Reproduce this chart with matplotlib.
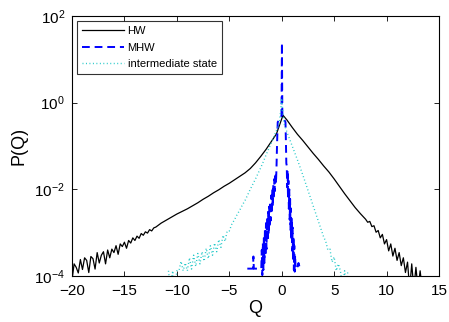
import numpy as np
import matplotlib
matplotlib.use("Agg")
import matplotlib.pyplot as plt

plt.rcParams['font.family'] = ['Liberation Sans', 'DejaVu Sans']

# ---- HW distribution (log10 P) ----
hw_q = [-20.0, -19.8, -19.6, -19.4, -19.2, -19.0, -18.8, -18.6, -18.4, -18.2,
        -18.0, -17.8, -17.6, -17.4, -17.2, -17.0, -16.8, -16.6, -16.4, -16.2,
        -16.0, -15.8, -15.6, -15.4, -15.2, -15.0, -14.8, -14.6, -14.4, -14.2,
        -14.0, -13.8, -13.6, -13.4, -13.2, -13.0, -12.8, -12.6, -12.4, -12.2,
        -12.0, -11.5, -11.0, -10.5, -10.0, -9.5, -9.0, -8.5, -8.0, -7.5,
        -7.0, -6.5, -6.0, -5.5, -5.0, -4.5, -4.0, -3.5, -3.0, -2.5,
        -2.0, -1.5, -1.0, -0.5, 0.12, 0.5, 1.0, 1.5, 2.0, 2.5,
        3.0, 3.5, 4.0, 4.5, 5.0, 5.5, 6.0, 6.5, 7.0, 7.5,
        8.0, 8.2, 8.4, 8.6, 8.8, 9.0, 9.2, 9.4, 9.6, 9.8,
        10.0, 10.2, 10.4, 10.6, 10.8, 11.0, 11.2, 11.4, 11.6, 11.8,
        12.0, 12.2, 12.4, 12.6, 12.8, 13.0, 13.2, 13.4]
hw_logp = [-4.10, -3.72, -3.80, -3.93, -3.62, -3.85, -3.58, -3.64, -3.92, -3.55,
           -3.60, -3.84, -3.46, -3.70, -3.52, -3.44, -3.72, -3.40, -3.58, -3.38,
           -3.46, -3.30, -3.50, -3.26, -3.32, -3.22, -3.36, -3.18, -3.24, -3.12,
           -3.18, -3.08, -3.13, -3.02, -3.06, -2.98, -3.01, -2.93, -2.96, -2.89,
           -2.87, -2.78, -2.71, -2.64, -2.57, -2.51, -2.45, -2.38, -2.31, -2.23,
           -2.16, -2.08, -2.01, -1.93, -1.86, -1.78, -1.70, -1.62, -1.52, -1.39,
           -1.24, -1.08, -0.90, -0.72, -0.29, -0.40, -0.57, -0.73, -0.87, -1.02,
           -1.17, -1.31, -1.46, -1.60, -1.76, -1.93, -2.10, -2.26, -2.42, -2.56,
           -2.69, -2.76, -2.74, -2.86, -2.84, -2.99, -2.95, -3.12, -3.04, -3.26,
           -3.16, -3.42, -3.26, -3.54, -3.36, -3.64, -3.46, -3.76, -3.58, -3.92,
           -3.68, -4.30, -3.72, -4.30, -3.80, -4.30, -3.88, -4.30]

# ---- MHW distribution (log10 P) ----
mhw_q = [-3.28, -3.00, -2.74, -2.70, -2.66, -2.40, -2.10, -1.95,
         -1.90, -1.85, -1.80, -1.75, -1.70, -1.65, -1.60, -1.55, -1.50, -1.45,
         -1.40, -1.35, -1.30, -1.25, -1.20, -1.15, -1.10, -1.05, -1.00, -0.95,
         -0.90, -0.85, -0.80, -0.75, -0.70, -0.65, -0.60, -0.55, -0.50,
         -0.46, -0.42, -0.38, -0.02, 0.02, 0.06, 0.36, 0.40, 0.44,
         0.48, 0.52, 0.56, 0.60, 0.64, 0.68, 0.72, 0.76, 0.80, 0.84,
         0.88, 0.92, 0.96, 1.00, 1.04, 1.08, 1.12, 1.16, 1.20, 1.24, 1.28,
         1.32, 1.45, 1.60, 1.74]
mhw_logp = [-3.83, -3.83, -3.83, -3.55, -3.83, -3.83, -3.83, -3.83,
            -3.40, -3.98, -3.24, -3.86, -3.06, -3.70, -2.92, -3.54, -2.78, -3.38,
            -2.66, -3.20, -2.52, -3.04, -2.40, -2.88, -2.28, -2.72, -2.14, -2.56,
            -2.02, -2.40, -1.88, -2.22, -1.76, -2.04, -1.62, -1.86, -1.52,
            -1.10, -0.75, -0.45, -0.30, 1.38, -0.30, -0.45, -0.90, -1.40,
            -1.45, -1.95, -1.55, -2.20, -1.80, -2.45, -2.00, -2.70, -2.22, -2.94,
            -2.44, -3.18, -2.66, -3.42, -2.88, -3.66, -3.08, -3.86, -3.30, -3.90,
            -3.52, -3.83, -3.83, -3.70, -3.83]

# ---- intermediate state (log10 P) ----
mid_q = [-10.8, -10.6, -10.4, -10.2, -10.0, -9.8, -9.6, -9.4, -9.2, -9.0,
         -8.8, -8.6, -8.4, -8.2, -8.0, -7.8, -7.6, -7.4, -7.2, -7.0,
         -6.8, -6.6, -6.4, -6.2, -6.0, -5.8, -5.6, -5.4, -5.2, -5.0,
         -4.75, -4.5, -4.25, -4.0, -3.75, -3.5, -3.25, -3.0, -2.75, -2.5,
         -2.25, -2.0, -1.75, -1.5, -1.25, -1.0, -0.75, -0.5, -0.25, -0.1,
         0.0, 0.1, 0.25, 0.5, 0.75, 1.0, 1.25, 1.5, 1.75, 2.0,
         2.25, 2.5, 2.75, 3.0, 3.25, 3.5, 3.75, 4.0, 4.2, 4.4,
         4.6, 4.8, 5.0, 5.2, 5.4, 5.6, 5.8, 6.0, 6.2, 6.3]
mid_logp = [-3.88, -4.30, -3.88, -4.30, -3.88, -3.88, -3.66, -3.88, -3.70, -3.88,
            -3.58, -3.84, -3.52, -3.78, -3.48, -3.72, -3.44, -3.66, -3.36, -3.60,
            -3.30, -3.52, -3.24, -3.44, -3.16, -3.34, -3.06, -3.20, -2.96, -2.96,
            -2.80, -2.70, -2.58, -2.48, -2.36, -2.26, -2.13, -2.00, -1.88, -1.76,
            -1.63, -1.50, -1.36, -1.21, -1.07, -0.93, -0.79, -0.64, -0.48, -0.20,
            0.10, -0.20, -0.50, -0.68, -0.84, -1.00, -1.16, -1.32, -1.49, -1.66,
            -1.84, -2.02, -2.20, -2.38, -2.56, -2.74, -2.92, -3.10, -3.20, -3.40,
            -3.38, -3.68, -3.56, -3.88, -3.72, -3.88, -4.30, -3.88, -4.30, -3.88]

x_ticks = [-20, -15, -10, -5, 0, 5, 10, 15]
y_ticks = [1e-4, 1e-2, 1e0, 1e2]

fig = plt.figure(figsize=(4.49, 3.22), dpi=100)
ax = fig.add_axes([72 / 449, 1 - 276 / 322, 367 / 449, 260 / 322])

ax.semilogy(hw_q, 10.0 ** np.array(hw_logp), color='black', lw=0.9, label='HW')
ax.semilogy(mhw_q, 10.0 ** np.array(mhw_logp), color='#0000ff', lw=1.4,
            ls=(0, (4, 2.5)), label='MHW')
ax.semilogy(mid_q, 10.0 ** np.array(mid_logp), color='#22c8c8', lw=1.0,
            ls=(0, (0.7, 1.8)), label='intermediate state')

ax.set_xlim(-20, 15)
ax.set_ylim(1e-4, 1e2)
ax.set_xticks(x_ticks)
ax.set_yticks(y_ticks)
ax.yaxis.set_minor_locator(matplotlib.ticker.NullLocator())
ax.tick_params(direction='in', length=3.5, width=0.6, top=True, right=True,
               labelsize=11)
ax.tick_params(axis='x', pad=6)
ax.tick_params(axis='y', pad=5)
for s in ax.spines.values():
    s.set_linewidth(0.8)

ax.set_xlabel('Q', fontsize=13, labelpad=1)
ax.set_ylabel('P(Q)', fontsize=13, labelpad=5)

leg = ax.legend(loc='upper left', fontsize=8, frameon=True, fancybox=False,
                borderpad=0.45, labelspacing=0.6, handlelength=3.8,
                handletextpad=0.3, borderaxespad=0.45)
leg.get_frame().set_edgecolor('black')
leg.get_frame().set_linewidth(0.8)

fig.savefig('out.png', dpi=100)
